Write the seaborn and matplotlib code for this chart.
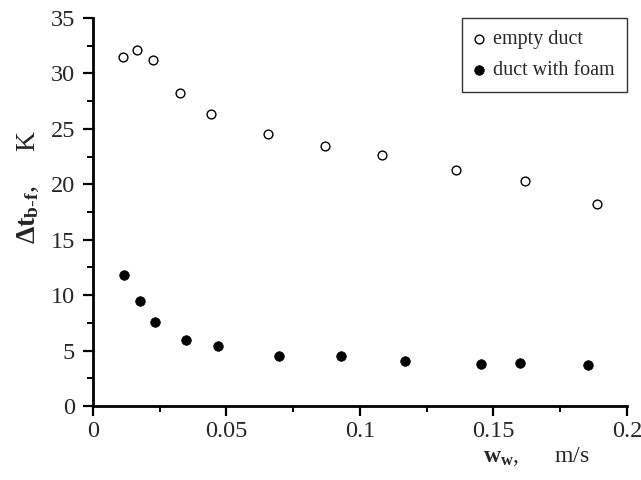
import numpy as np
import pandas as pd
import matplotlib.pyplot as plt
import seaborn as sns
from matplotlib.ticker import MultipleLocator, FormatStrFormatter

# Data
w_empty = [0.0112, 0.0165, 0.0225, 0.0326, 0.0442, 0.0655, 0.0869, 0.1082, 0.136, 0.162, 0.1888]
dt_empty = [31.5, 32.1, 31.2, 28.2, 26.3, 24.5, 23.5, 22.6, 21.3, 20.3, 18.2]

w_foam = [0.0116, 0.0176, 0.0232, 0.0348, 0.0468, 0.0697, 0.0929, 0.1169, 0.1453, 0.160, 0.1855]
dt_foam = [11.8, 9.5, 7.6, 6.0, 5.4, 4.5, 4.5, 4.1, 3.8, 3.9, 3.7]

df_empty = pd.DataFrame({"w": w_empty, "dt": dt_empty})
df_foam = pd.DataFrame({"w": w_foam, "dt": dt_foam})

sns.set_style("ticks")
plt.rcParams['font.family'] = ['Liberation Serif', 'DejaVu Serif']
plt.rcParams['mathtext.fontset'] = 'custom'
plt.rcParams['mathtext.rm'] = 'Liberation Serif'
plt.rcParams['mathtext.bf'] = 'Liberation Serif:bold'
plt.rcParams['mathtext.it'] = 'Liberation Serif:italic'

fig = plt.figure(figsize=(6.41, 4.8), dpi=100)
ax = fig.add_axes([0.145, 0.154, 0.833, 0.8085])

sns.scatterplot(data=df_empty, x="w", y="dt", ax=ax, marker="o", s=40,
                facecolor="white", edgecolor="black", linewidth=1.0, label="empty duct")
sns.scatterplot(data=df_foam, x="w", y="dt", ax=ax, marker="o", s=48,
                color="black", edgecolor="black", linewidth=0.5, label="duct with foam")

ax.set_xlim(0, 0.2)
ax.set_ylim(0, 35)
ax.xaxis.set_major_locator(MultipleLocator(0.05))
ax.xaxis.set_minor_locator(MultipleLocator(0.025))
ax.yaxis.set_major_locator(MultipleLocator(5))
ax.yaxis.set_minor_locator(MultipleLocator(2.5))
ax.xaxis.set_major_formatter(FormatStrFormatter("%g"))

sns.despine(ax=ax)
for s in ["left", "bottom"]:
    ax.spines[s].set_linewidth(2)
    ax.spines[s].set_color("black")
ax.tick_params(which="major", direction="out", length=7, width=1.6, labelsize=17.5,
               color="black")
ax.tick_params(axis="x", which="major", pad=4)
ax.tick_params(axis="y", which="major", pad=6)
ax.tick_params(which="minor", direction="out", length=4, width=1.4, color="black")

ax.set_xlabel(r"$\mathbf{w_{w}}$,      m/s", fontsize=17)
ax.xaxis.set_label_coords(0.83, -0.1)
ax.set_ylabel(r"$\mathbf{\Delta t_{b\text{-}f}}$,     K", fontsize=20)
ax.yaxis.set_label_coords(-0.098, 0.565)

leg = ax.legend(loc="upper right", frameon=True, fancybox=False, fontsize=14.5,
                borderpad=0.6, handlelength=0.5, handletextpad=0.45, labelspacing=0.6,
                bbox_to_anchor=(1.0, 1.0), borderaxespad=0.0)
leg.get_frame().set_edgecolor("black")
leg.get_frame().set_linewidth(1.0)

fig.savefig("out.png", dpi=100)
